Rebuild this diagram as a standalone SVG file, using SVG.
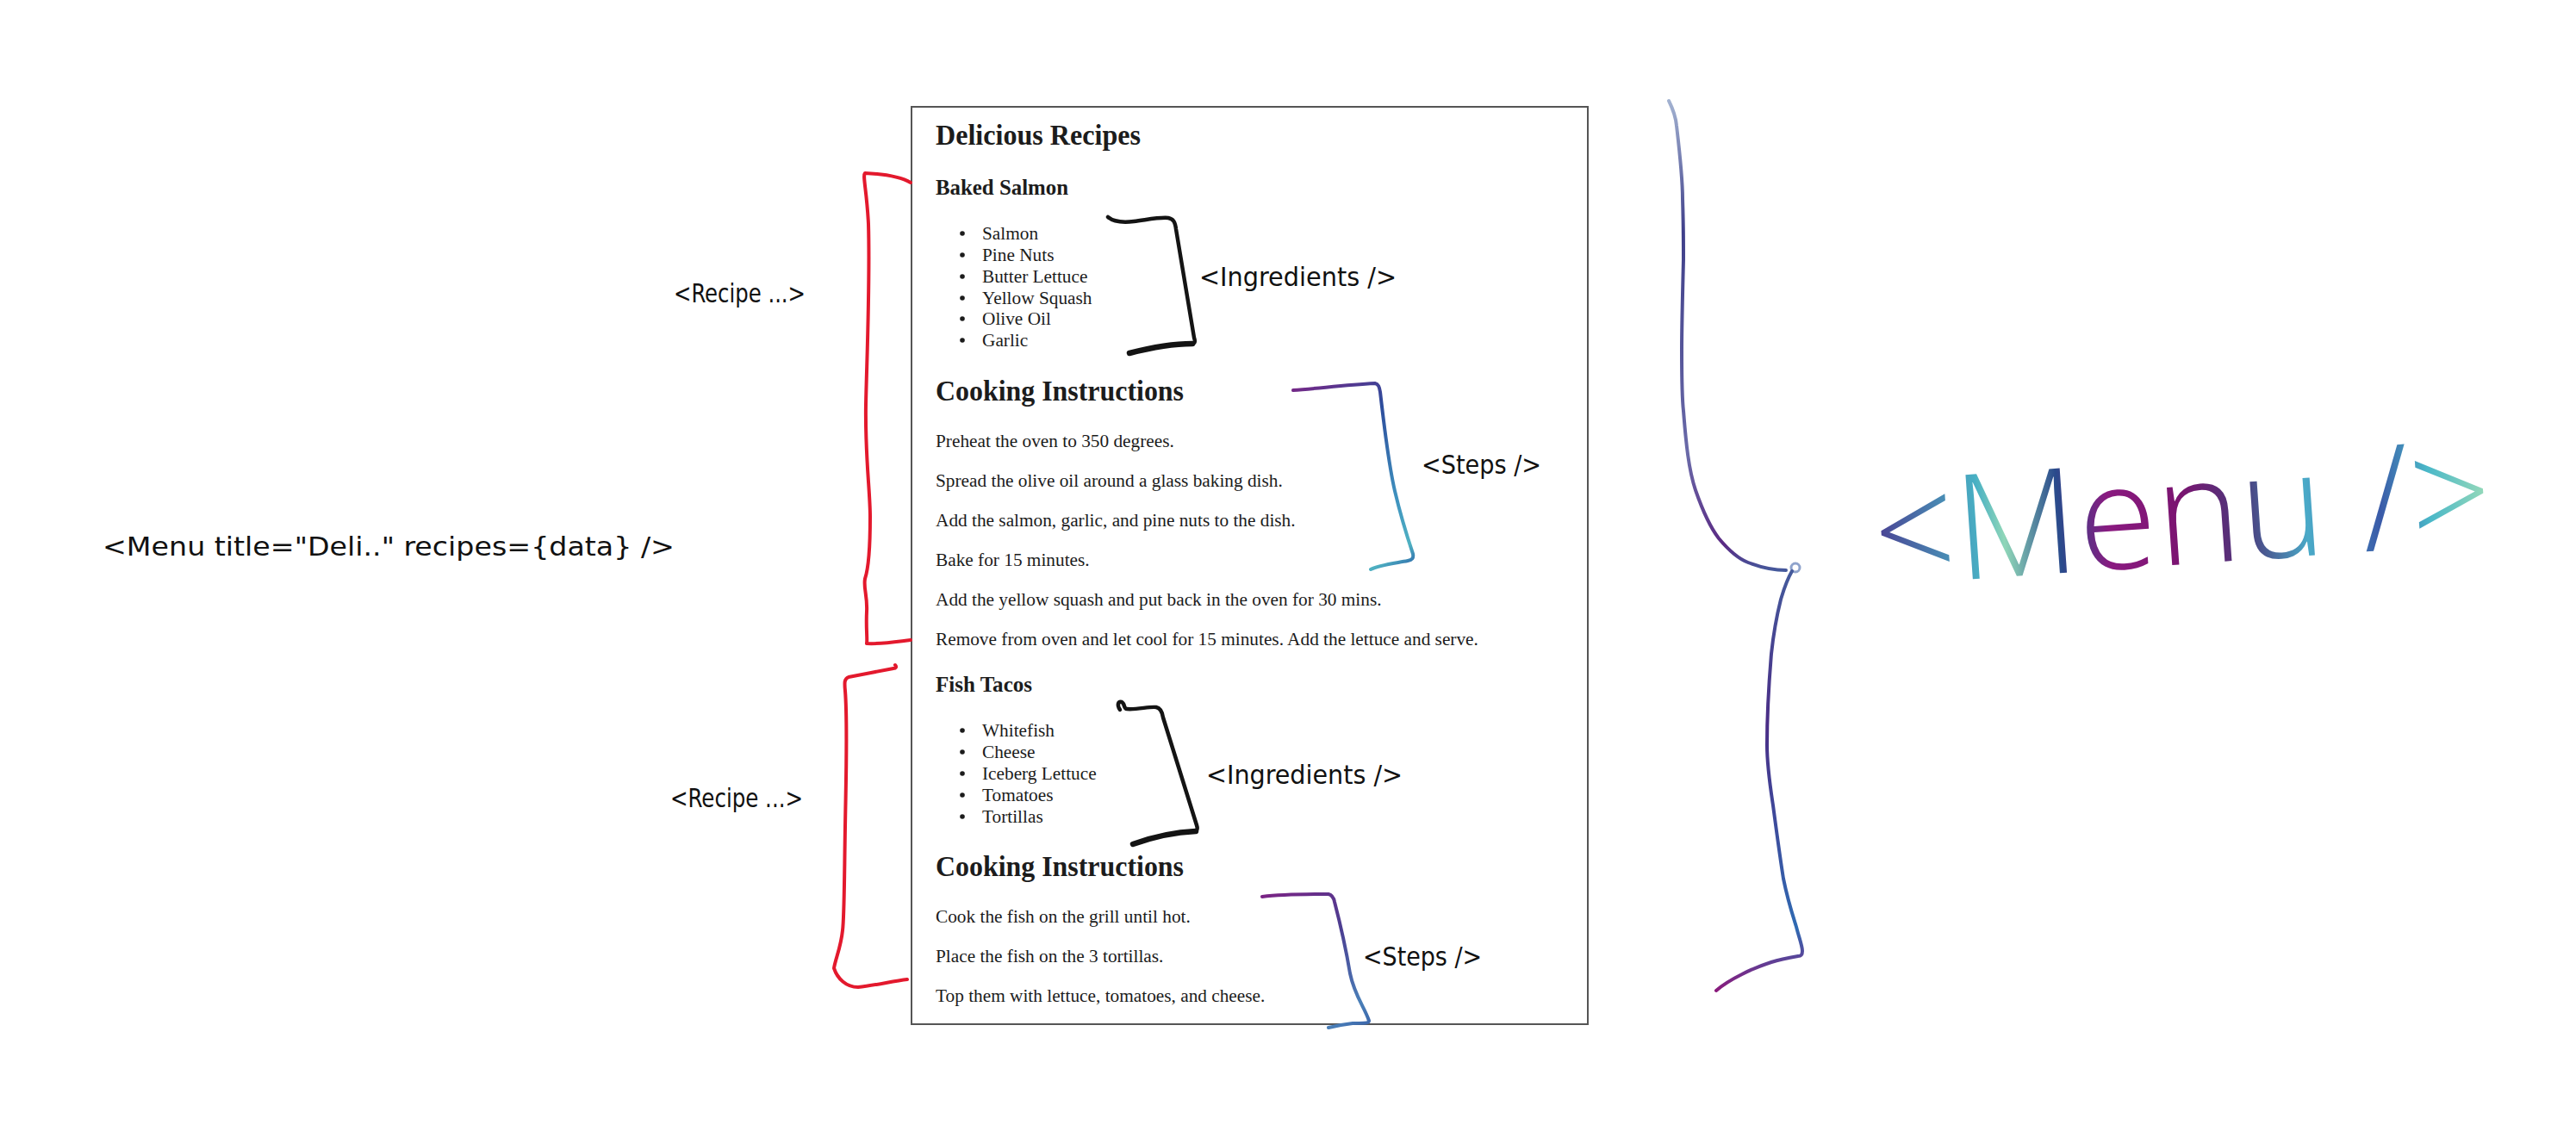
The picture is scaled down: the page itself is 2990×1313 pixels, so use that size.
<svg xmlns="http://www.w3.org/2000/svg" width="2990" height="1313" viewBox="0 0 2990 1313">
<defs>
<style>
.doc{font-family:"Liberation Serif","Times New Roman",serif;fill:#1c1c1c}
.h1{font-size:34px;font-weight:bold}
.h3{font-size:26px;font-weight:bold}
.p{font-size:21.3px}
.hand{font-family:"Liberation Sans Narrow","DejaVu Sans Condensed","Liberation Sans",sans-serif;font-size:31px;fill:#111}
.red{stroke:#e3192d;stroke-width:4;fill:none;stroke-linecap:round;stroke-linejoin:round}
.ink{stroke:#141414;stroke-width:4.5;fill:none;stroke-linecap:round;stroke-linejoin:round}
.inkb{stroke:#141414;stroke-width:6.5;fill:none;stroke-linecap:round}
.grad{fill:none;stroke-width:4;stroke-linecap:round;stroke-linejoin:round}
.dot{fill:#1c1c1c}
</style>
<linearGradient id="gSteps1" gradientUnits="userSpaceOnUse" x1="1500" y1="445" x2="1640" y2="660">
<stop offset="0" stop-color="#7a2585"/><stop offset="0.3" stop-color="#2d4c9c"/><stop offset="0.7" stop-color="#3f93bf"/><stop offset="0.9" stop-color="#4fb1c2"/><stop offset="1" stop-color="#2a62a8"/>
</linearGradient>
<linearGradient id="gSteps2" gradientUnits="userSpaceOnUse" x1="1465" y1="1038" x2="1590" y2="1193">
<stop offset="0" stop-color="#7b2384"/><stop offset="0.45" stop-color="#4b3f92"/><stop offset="0.85" stop-color="#4a7fb8"/><stop offset="1" stop-color="#3a64aa"/>
</linearGradient>
<linearGradient id="gBrace" gradientUnits="userSpaceOnUse" x1="0" y1="114" x2="0" y2="1150">
<stop offset="0" stop-color="#a4b4d2"/><stop offset="0.15" stop-color="#3f3f8a"/><stop offset="0.4" stop-color="#6a6aa8"/><stop offset="0.5" stop-color="#5a2a84"/><stop offset="0.53" stop-color="#445a9c"/><stop offset="0.7" stop-color="#4a2d86"/><stop offset="0.93" stop-color="#2f6ab2"/><stop offset="1" stop-color="#8a1a7c"/>
</linearGradient>
<linearGradient id="gMenu" gradientUnits="userSpaceOnUse" x1="2179" y1="0" x2="2897" y2="0">
<stop offset="0" stop-color="#4a3e92"/><stop offset="0.17" stop-color="#48b0c4"/><stop offset="0.21" stop-color="#8fd6b8"/><stop offset="0.3" stop-color="#2a4a8c"/><stop offset="0.38" stop-color="#8a1a80"/><stop offset="0.5" stop-color="#7a1470"/><stop offset="0.6" stop-color="#4a3a7c"/><stop offset="0.7" stop-color="#4aaac8"/><stop offset="0.82" stop-color="#3a5aa8"/><stop offset="0.9" stop-color="#4ab8c8"/><stop offset="1" stop-color="#9cdcb8"/>
</linearGradient>
</defs>
<rect width="2990" height="1313" fill="#ffffff"/>

<g id="page">
<rect x="1058" y="124" width="785" height="1065" fill="#ffffff" stroke="#555555" stroke-width="2"/>
<g class="doc">
<text class="h1" x="1086" y="168" textLength="238" lengthAdjust="spacingAndGlyphs">Delicious Recipes</text>
<text class="h3" x="1086" y="226" textLength="154" lengthAdjust="spacingAndGlyphs">Baked Salmon</text>
<text class="p" x="1140" y="278">Salmon</text>
<text class="p" x="1140" y="303">Pine Nuts</text>
<text class="p" x="1140" y="328">Butter Lettuce</text>
<text class="p" x="1140" y="353">Yellow Squash</text>
<text class="p" x="1140" y="377">Olive Oil</text>
<text class="p" x="1140" y="402">Garlic</text>
<text class="h1" x="1086" y="465" textLength="288" lengthAdjust="spacingAndGlyphs">Cooking Instructions</text>
<text class="p" x="1086" y="519">Preheat the oven to 350 degrees.</text>
<text class="p" x="1086" y="565">Spread the olive oil around a glass baking dish.</text>
<text class="p" x="1086" y="611">Add the salmon, garlic, and pine nuts to the dish.</text>
<text class="p" x="1086" y="657">Bake for 15 minutes.</text>
<text class="p" x="1086" y="703">Add the yellow squash and put back in the oven for 30 mins.</text>
<text class="p" x="1086" y="749">Remove from oven and let cool for 15 minutes. Add the lettuce and serve.</text>
<text class="h3" x="1086" y="803" textLength="112" lengthAdjust="spacingAndGlyphs">Fish Tacos</text>
<text class="p" x="1140" y="855">Whitefish</text>
<text class="p" x="1140" y="880">Cheese</text>
<text class="p" x="1140" y="905">Iceberg Lettuce</text>
<text class="p" x="1140" y="930">Tomatoes</text>
<text class="p" x="1140" y="955">Tortillas</text>
<text class="h1" x="1086" y="1017" textLength="288" lengthAdjust="spacingAndGlyphs">Cooking Instructions</text>
<text class="p" x="1086" y="1071">Cook the fish on the grill until hot.</text>
<text class="p" x="1086" y="1117">Place the fish on the 3 tortillas.</text>
<text class="p" x="1086" y="1163">Top them with lettuce, tomatoes, and cheese.</text>
</g>
<g>
<circle class="dot" cx="1117" cy="271" r="2.8"/>
<circle class="dot" cx="1117" cy="296" r="2.8"/>
<circle class="dot" cx="1117" cy="321" r="2.8"/>
<circle class="dot" cx="1117" cy="346" r="2.8"/>
<circle class="dot" cx="1117" cy="370" r="2.8"/>
<circle class="dot" cx="1117" cy="395" r="2.8"/>
<circle class="dot" cx="1117" cy="848" r="2.8"/>
<circle class="dot" cx="1117" cy="873" r="2.8"/>
<circle class="dot" cx="1117" cy="898" r="2.8"/>
<circle class="dot" cx="1117" cy="923" r="2.8"/>
<circle class="dot" cx="1117" cy="948" r="2.8"/>
</g>
</g>

<g id="connectors">
<path class="red" d="M1057,212 C1045,205 1025,202 1004,201 C1001,204 1006,220 1008,260 C1010,330 1006,420 1005,470 C1004,530 1010,570 1010,600 C1010,640 1008,660 1004,672 C1002,682 1007,692 1006,710 C1005,730 1007,742 1006,747 C1022,748 1040,745 1057,743"/>
<path class="red" d="M1039,772 C1041,774 1040,776 1037,776 C1022,779 1000,783 985,786 C980,788 980,792 981,802 C984,840 982,900 981,960 C980,1020 980,1065 978,1080 C976,1100 970,1112 968,1124 C972,1136 982,1146 996,1146 C1016,1144 1036,1139 1053,1137"/>
<path class="ink" d="M1286,252 C1292,257 1300,259 1316,257 C1332,255 1346,252 1356,253 C1362,254 1364,258 1365,266 L1386,392 C1388,398 1387,399 1380,399"/>
<path class="inkb" d="M1384,399 C1360,399 1338,403 1311,410"/>
<path class="ink" d="M1300,824 C1296,818 1298,814 1302,815 C1306,817 1304,823 1308,823 C1320,824 1334,820 1342,821 C1347,822 1349,826 1350,833 L1389,958 C1391,964 1389,965 1382,965"/>
<path class="inkb" d="M1388,965 C1365,966 1340,971 1315,980"/>
<path class="grad" stroke="url(#gSteps1)" d="M1501,453 C1530,451 1560,447 1596,445 C1600,446 1601,449 1602,455 C1606,490 1612,540 1619,570 C1626,600 1634,625 1640,643 C1641,648 1639,650 1634,651 C1618,654 1600,656 1591,661"/>
<path class="grad" stroke="url(#gSteps2)" d="M1465,1041 C1490,1038 1520,1038 1542,1038 C1546,1039 1548,1042 1549,1047 C1555,1070 1562,1100 1567,1130 C1572,1155 1584,1170 1589,1185 C1589,1188 1585,1188 1570,1188 C1560,1189 1550,1191 1542,1193"/>
<path class="grad" stroke="url(#gBrace)" stroke-width="3.5" d="M1937,117 C1941,125 1945,135 1946,146 C1950,180 1953,205 1953,231 C1954,260 1954,280 1954,301 C1953,340 1952,380 1952,407 C1952,440 1952,460 1954,477 C1957,515 1960,545 1968,569 C1976,592 1985,612 1995,625 C2005,637 2016,648 2029,653 C2042,658 2058,662 2073,662"/>
<circle cx="2084" cy="659" r="5" fill="none" stroke="#8fa3cc" stroke-width="3"/>
<path class="grad" stroke="url(#gBrace)" stroke-width="3.5" d="M2080,663 C2073,675 2070,686 2067,696 C2061,720 2058,740 2056,759 C2053,795 2051,830 2051,865 C2051,890 2055,915 2058,935 C2062,965 2066,995 2070,1020 C2075,1045 2080,1060 2085,1076 C2088,1088 2092,1098 2092,1104 C2092,1109 2090,1110 2087,1110 C2075,1112 2065,1114 2056,1117 C2044,1121 2033,1125 2022,1131 C2010,1137 2000,1143 1992,1150"/>
</g>

<g id="label-menu-call"><text class="hand" x="119" y="645" textLength="664" lengthAdjust="spacingAndGlyphs">&lt;Menu title="Deli.." recipes={data} /&gt;</text></g>
<g id="label-recipe-1"><text class="hand" x="782" y="351" textLength="153" lengthAdjust="spacingAndGlyphs">&lt;Recipe ...&gt;</text></g>
<g id="label-recipe-2"><text class="hand" x="778" y="937" textLength="154" lengthAdjust="spacingAndGlyphs">&lt;Recipe ...&gt;</text></g>
<g id="label-ingredients-1"><text class="hand" x="1392" y="332" textLength="229" lengthAdjust="spacingAndGlyphs">&lt;Ingredients /&gt;</text></g>
<g id="label-ingredients-2"><text class="hand" x="1400" y="910" textLength="228" lengthAdjust="spacingAndGlyphs">&lt;Ingredients /&gt;</text></g>
<g id="label-steps-1"><text class="hand" x="1650" y="550" textLength="139" lengthAdjust="spacingAndGlyphs">&lt;Steps /&gt;</text></g>
<g id="label-steps-2"><text class="hand" x="1582" y="1121" textLength="138" lengthAdjust="spacingAndGlyphs">&lt;Steps /&gt;</text></g>
<g id="label-menu"><text x="2179" y="680" transform="rotate(-4 2179 680)" font-family="'Open Sans','Lato','Liberation Sans',sans-serif" font-weight="300" font-size="170" fill="url(#gMenu)" textLength="718" lengthAdjust="spacingAndGlyphs">&lt;Menu /&gt;</text></g>
</svg>
